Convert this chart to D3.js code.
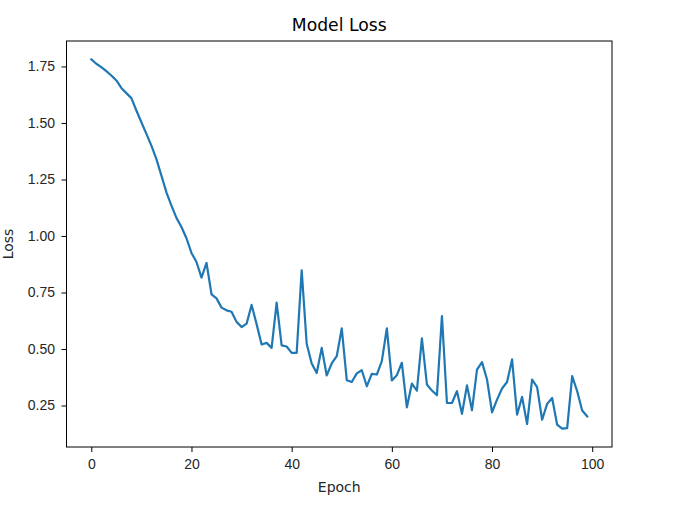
<!DOCTYPE html>
<html>
<head>
<meta charset="utf-8">
<script src="https://cdn.jsdelivr.net/npm/d3@7"></script>
<style>
  body { margin: 0; background: #fff; }
  svg { display: block; font-family: "DejaVu Sans", sans-serif; }
  .axis text { font-size: 14px; fill: #262626; }
  .axis path, .axis line { stroke: #000; stroke-width: 1; }
</style>
</head>
<body>
<svg id="chart" width="687" height="506"></svg>
<script>
// loss per epoch
var epochs = d3.range(0, 100);
var loss = [
  1.781, 1.762, 1.747, 1.729, 1.710, 1.688, 1.655, 1.632, 1.610, 1.555,
  1.503, 1.452, 1.400, 1.340, 1.267, 1.193, 1.134, 1.080, 1.040, 0.990,
  0.925, 0.885, 0.816, 0.881, 0.742, 0.724, 0.683, 0.671, 0.665, 0.620,
  0.597, 0.612, 0.695, 0.610, 0.520, 0.527, 0.505, 0.705, 0.516, 0.511,
  0.483, 0.483, 0.848, 0.523, 0.436, 0.394, 0.505, 0.383, 0.436, 0.468,
  0.591, 0.362, 0.354, 0.392, 0.406, 0.335, 0.390, 0.387, 0.446, 0.591,
  0.361, 0.384, 0.439, 0.242, 0.347, 0.316, 0.547, 0.343, 0.316, 0.295,
  0.646, 0.261, 0.261, 0.313, 0.213, 0.339, 0.229, 0.409, 0.442, 0.365,
  0.220, 0.276, 0.325, 0.354, 0.454, 0.209, 0.288, 0.168, 0.365, 0.331,
  0.187, 0.257, 0.283, 0.165, 0.148, 0.150, 0.380, 0.313, 0.228, 0.202
];
var xTicks = [0, 20, 40, 60, 80, 100];
var yTicks = [0.25, 0.50, 0.75, 1.00, 1.25, 1.50, 1.75];

var svg = d3.select("#chart"),
    margin = {top: 41, right: 75, bottom: 59, left: 66.5},
    width = 687 - margin.left - margin.right,
    height = 506 - margin.top - margin.bottom,
    g = svg.append("g").attr("transform", "translate(" + margin.left + "," + margin.top + ")");

// matplotlib style autoscale: data extent plus 5% each side
function padded(ext) {
  var m = (ext[1] - ext[0]) * 0.05;
  return [ext[0] - m, ext[1] + m];
}

var x = d3.scaleLinear()
    .domain(padded(d3.extent(epochs)))
    .range([0, width]);

var y = d3.scaleLinear()
    .domain(padded(d3.extent(loss)))
    .range([height, 0]);

var line = d3.line()
    .x(function(d, i) { return x(epochs[i]); })
    .y(function(d) { return y(d); });

g.append("path")
    .datum(loss)
    .attr("fill", "none")
    .attr("stroke", "#1f77b4")
    .attr("stroke-width", 2.2)
    .attr("stroke-linejoin", "round")
    .attr("stroke-linecap", "square")
    .attr("d", line);

g.append("g")
    .attr("class", "axis axis--x")
    .attr("transform", "translate(0," + height + ")")
    .call(d3.axisBottom(x).tickValues(xTicks).tickSize(5).tickPadding(7).tickSizeOuter(0).tickFormat(d3.format("d")));

g.append("g")
    .attr("class", "axis axis--y")
    .call(d3.axisLeft(y).tickValues(yTicks).tickSize(5).tickPadding(6.5).tickSizeOuter(0).tickFormat(d3.format(".2f")));

// frame
g.append("rect")
    .attr("width", width)
    .attr("height", height)
    .attr("fill", "none")
    .attr("stroke", "#000")
    .attr("stroke-width", 1);

g.selectAll(".axis .domain").remove();

svg.append("text")
    .attr("x", margin.left + width / 2)
    .attr("y", 31)
    .attr("text-anchor", "middle")
    .style("font-size", "17.2px")
    .attr("fill", "#000")
    .text("Model Loss");

svg.append("text")
    .attr("x", margin.left + width / 2)
    .attr("y", 492)
    .attr("text-anchor", "middle")
    .style("font-size", "14px")
    .attr("fill", "#262626")
    .text("Epoch");

svg.append("text")
    .attr("transform", "translate(12.7," + (margin.top + height / 2) + ") rotate(-90)")
    .attr("text-anchor", "middle")
    .style("font-size", "14px")
    .attr("fill", "#262626")
    .text("Loss");
</script>
</body>
</html>
